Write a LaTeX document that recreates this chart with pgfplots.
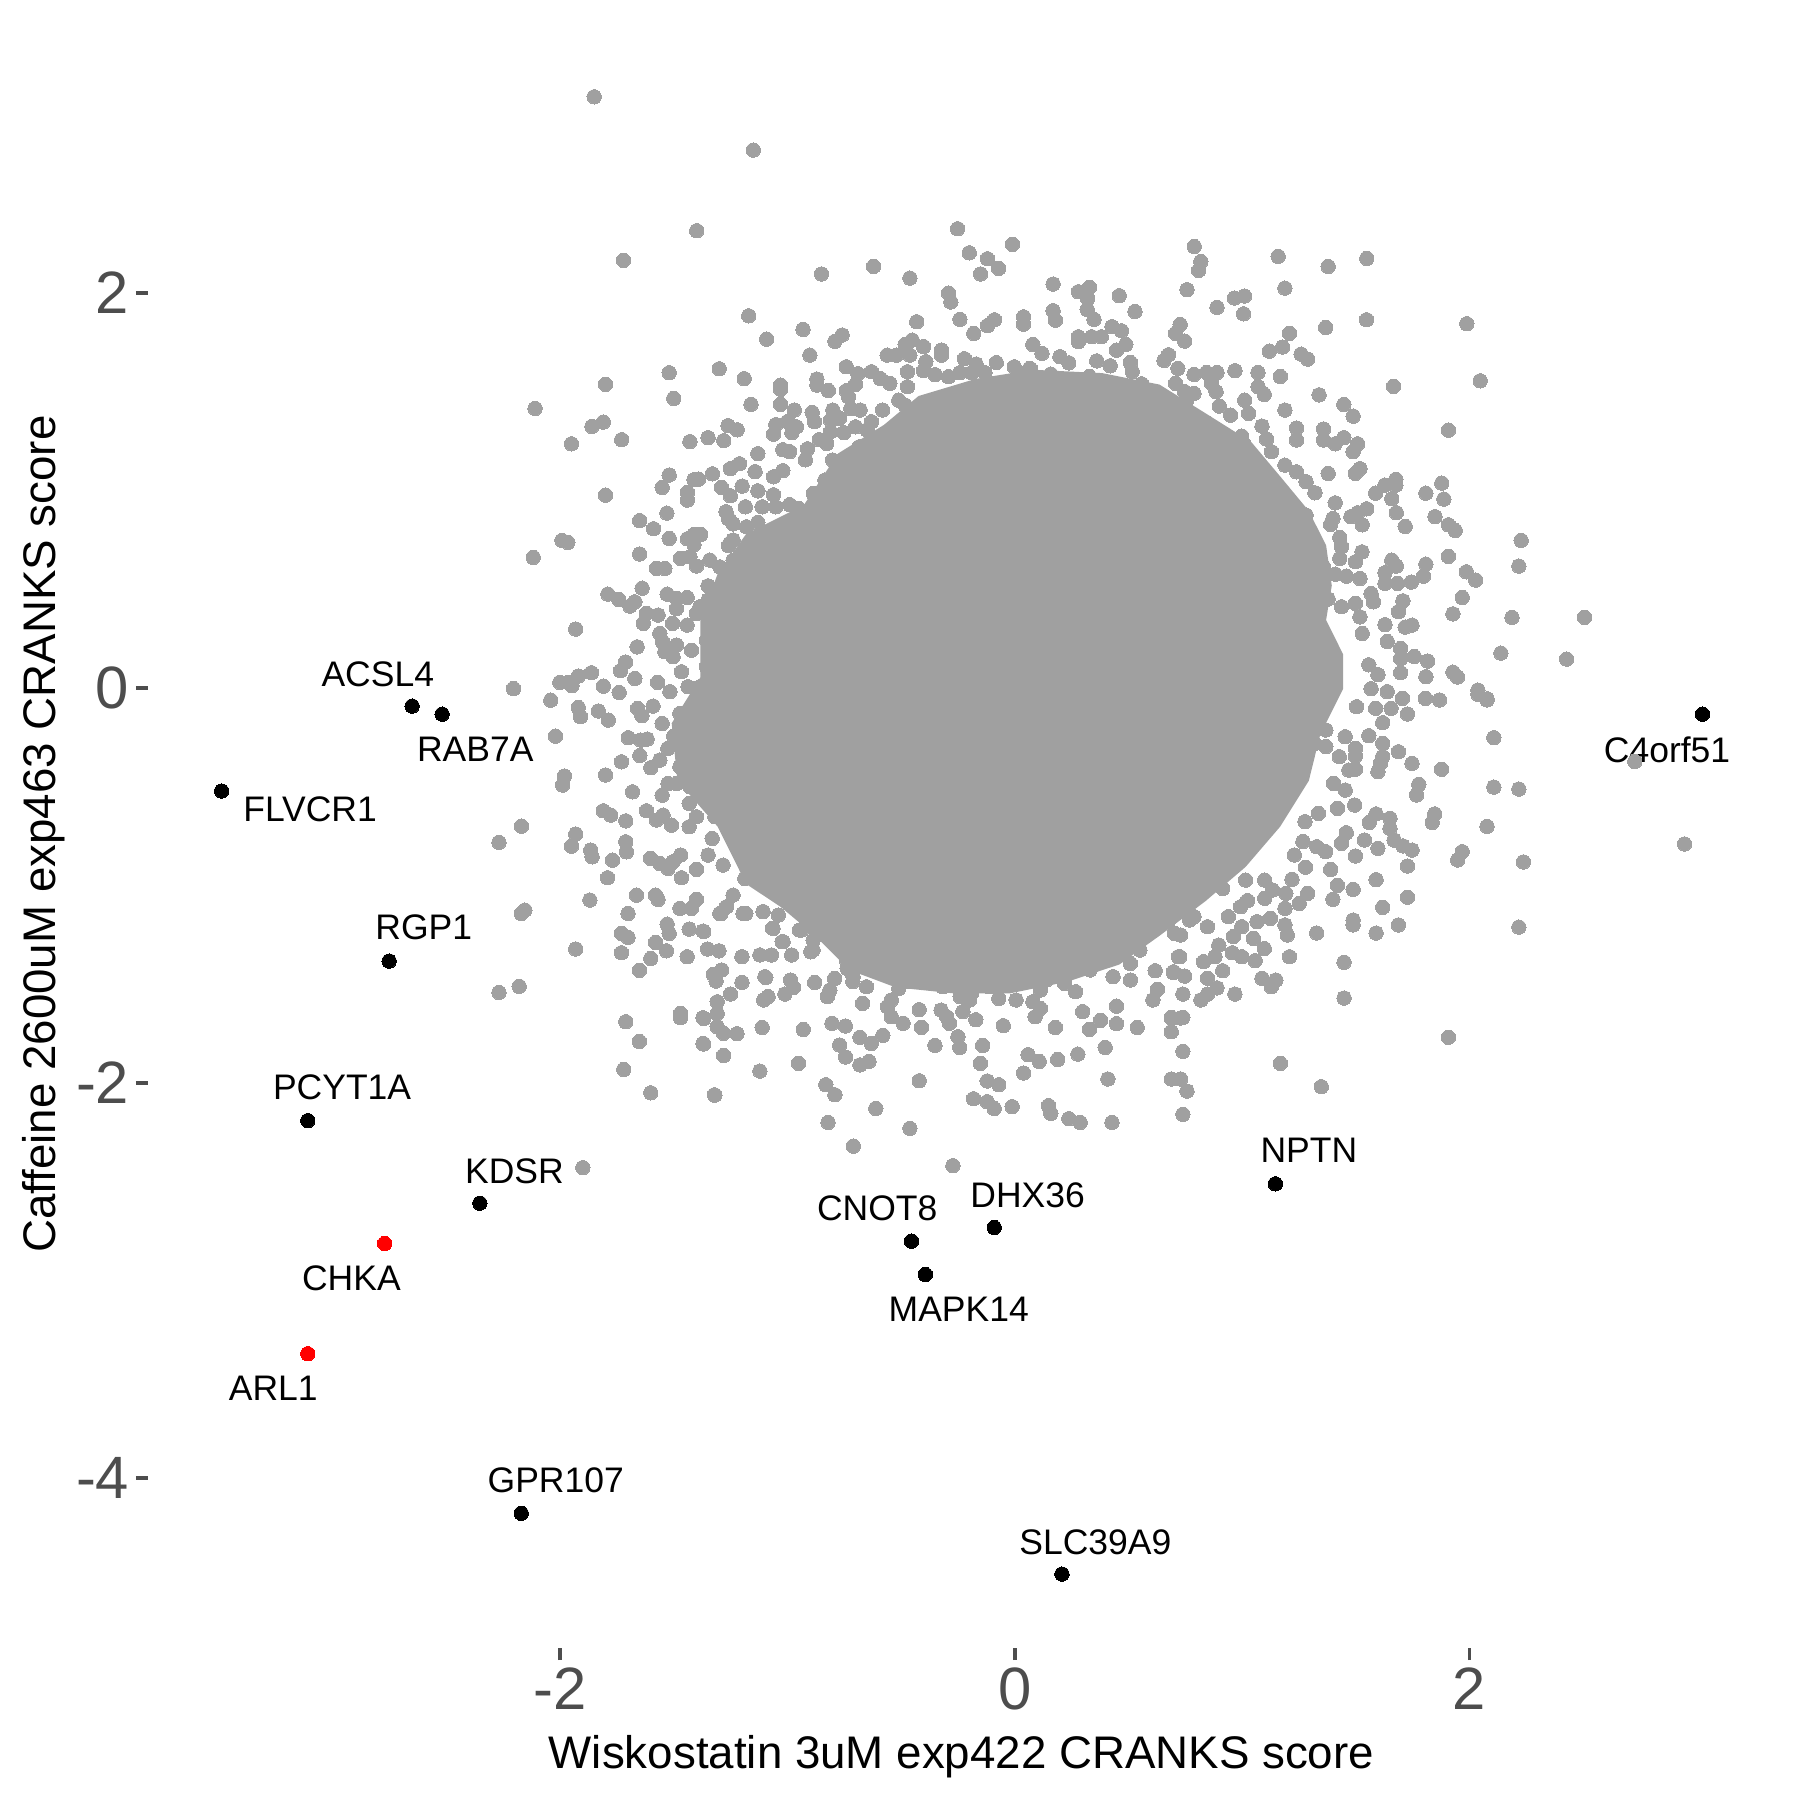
\documentclass[border=0pt]{standalone}
\usepackage{fontspec}
\setmainfont{Liberation Sans}
\usepackage{pgfplots}
\pgfplotsset{compat=1.18}
\definecolor{ptgray}{HTML}{A0A0A0}
\definecolor{tickgray}{HTML}{4D4D4D}
\newcommand{\lab}[3]{\node[anchor=center,inner sep=0pt,font=\fontsize{10.1}{12}\selectfont] at (axis cs:#1,#2) {#3};}
\begin{document}
\begin{tikzpicture}
\path[use as bounding box] (-14.8mm,-15.2mm) rectangle (165.2mm,164.8mm);
\begin{axis}[
  at={(0,0)},anchor=south west,
  scale only axis,width=162.7mm,height=162.8mm,
  xmin=-3.814,xmax=3.344,ymin=-4.862,ymax=3.381,
  axis line style={draw=none},
  clip=false,
  xtick={-2,0,2},xticklabels={-2,0,2},
  ytick={-4,-2,0,2},yticklabels={-4,-2,0,2},
  xtick pos=lower,ytick pos=left,
  tick align=outside,major tick length=1.2mm,
  tick style={color=tickgray,line width=1.05pt},
  ticklabel style={color=tickgray,font=\fontsize{17}{20}\selectfont},
  xticklabel style={yshift=1.2pt},
  yticklabel style={xshift=1.6pt},
  xlabel={Wiskostatin 3uM exp422 CRANKS score},
  ylabel={Caffeine 2600uM exp463 CRANKS score},
  xlabel style={at={(axis description cs:0.5,-0.067)},anchor=center,font=\fontsize{13}{15}\selectfont},
  ylabel style={at={(axis description cs:-0.0642,0.5)},anchor=center,rotate=0,font=\fontsize{13}{15}\selectfont},
]
% merged mass of the overlapping central points: its outline
\addplot[fill=ptgray,draw=none,forget plot] coordinates {
(-.929,.924)(-.778,1.186)(-.576,1.331)(-.424,1.477)(-.172,1.564)(.081,1.610)(.384,1.593)(.636,1.535)(.838,1.390)(1.040,1.244)(1.167,1.070)(1.293,.895)(1.369,.721)(1.394,.517)(1.369,.343)(1.444,.169)(1.444,-.006)(1.343,-.238)(1.293,-.471)(1.167,-.703)(1.015,-.907)(.838,-1.081)(.636,-1.256)(.460,-1.401)(.232,-1.488)(-.020,-1.547)(-.273,-1.547)(-.525,-1.517)(-.727,-1.430)(-.879,-1.256)(-1.030,-1.110)(-1.182,-.994)(-1.308,-.703)(-1.485,-.471)(-1.510,-.180)(-1.384,.052)(-1.384,.343)(-1.308,.576)(-1.182,.779)
} -- cycle;
% individually readable grey points
\addplot[only marks,color=ptgray,mark=*,mark size=2.05pt,mark options={draw=ptgray,fill=ptgray,line width=0pt},forget plot] coordinates {
(-1.851,2.992)(-1.151,2.722)(-1.400,2.314)(-1.722,2.164)(-.851,2.095)(-.622,2.133)(-.462,2.074)(-.252,2.324)(-.201,2.202)(-.121,2.172)(-.072,2.123)(-.151,2.095)(-.011,2.245)(-.292,1.998)(-.282,1.953)(-1.171,1.883)(-1.092,1.765)(-.932,1.814)(-.760,1.786)(-.792,1.754)(-.902,1.684)(-.432,1.853)(-.242,1.865)(-.181,1.794)(-.121,1.833)(-.090,1.863)(.038,1.878)(.038,1.841)(-1.521,1.595)(-1.301,1.615)(-1.191,1.565)(-1.801,1.536)(-1.501,1.465)(-2.111,1.414)(-1.811,1.345)(-1.861,1.323)(-1.951,1.235)(-1.730,1.256)(-1.430,1.246)(-1.350,1.266)(-1.281,1.251)(-1.262,1.327)(-1.222,1.306)(-1.161,1.435)(-1.031,1.532)(-1.031,1.511)(-1.031,1.435)(-.742,1.625)(-.871,1.563)(-.871,1.532)(-.821,1.505)(-.971,1.406)(-.892,1.394)(-.882,1.347)(-.801,1.406)(-1.052,1.332)(-1.062,1.284)(-1.001,1.347)(-.961,1.321)(-.981,1.291)(-1.131,1.185)(-1.021,1.205)(-.991,1.195)(-.912,1.210)(-.922,1.154)(-.861,1.256)(-1.212,1.134)(-1.252,1.109)(-1.331,1.083)(-1.521,1.077)(-1.552,1.014)(-1.412,1.053)(-1.392,1.056)(-1.441,.989)(-1.441,.950)(-1.291,1.014)(-1.252,.972)(-1.200,1.021)(-1.143,1.094)(-1.062,1.068)(-1.021,1.099)(-1.131,.997)(-1.062,.977)(-1.186,.916)(-1.112,.916)(-1.052,.916)(-.991,.927)(-.951,.908)(-1.801,.975)(-1.531,.884)(-1.651,.846)(-1.590,.805)(-1.521,.756)(-1.412,.776)(-1.382,.776)(-1.441,.754)(-1.412,.724)(-1.271,.891)(-1.260,.856)(-1.240,.830)(-1.181,.815)(-1.131,.837)(-1.240,.748)(-1.260,.719)(-1.993,.746)(-1.967,.736)(-2.119,.660)(-1.651,.677)
(-.562,1.684)(-.521,1.684)(-.462,1.684)(-.483,1.738)(-.452,1.760)(-.402,1.727)(-.323,1.710)(-.323,1.684)(-.222,1.666)(-.171,1.639)(-.082,1.646)(-.392,1.651)(-.402,1.605)(-.351,1.585)(-.292,1.575)(-.242,1.595)(-.191,1.595)(-.132,1.595)(-.003,1.625)(.068,1.615)(.027,1.585)(-.473,1.600)(-.473,1.524)(-.691,1.590)(-.631,1.600)(-.592,1.565)(-.550,1.541)(-.701,1.536)(-.742,1.504)(-.732,1.473)(-.722,1.414)(-.681,1.406)(-.582,1.406)(-.511,1.456)(-.483,1.431)(-.442,1.389)(-.331,1.451)(-.361,1.386)(-.262,1.473)(-.212,1.482)(-.153,1.490)(-.122,1.451)(-.122,1.375)(-.213,1.355)(-.062,1.416)(-.013,1.511)(.107,1.532)(-.772,1.364)(-.811,1.355)(-.752,1.291)(-.701,1.321)(-.631,1.347)(-.651,1.305)(-.811,1.296)(-.828,1.237)(-.685,1.220)(-.584,1.271)(-.483,1.330)(-.398,1.305)
(-.802,1.153)(-.735,1.102)(-.836,1.051)(-.887,.984)(-.802,.900)(-.718,.984)(-.887,.815)(-.971,.781)(-1.038,.748)(-1.139,.697)(-.634,1.153)(-.550,1.237)(-.668,1.018)(-.702,.900)(-.802,.765)(-.887,.697)
(.789,2.234)(.818,2.158)(.808,2.113)(1.158,2.184)(1.378,2.133)(1.548,2.174)(1.188,2.023)(.757,2.015)(1.010,1.983)(.966,1.973)(.889,1.926)(1.006,1.893)(.168,2.044)(.279,2.005)(.328,2.027)(.320,1.971)(.318,1.915)(.348,1.865)(.459,1.985)(.528,1.905)(.168,1.909)(.178,1.861)(1.367,1.824)(1.547,1.863)(1.988,1.843)(1.208,1.794)(1.178,1.725)(1.119,1.704)(1.259,1.689)(1.288,1.664)(2.047,1.554)(1.666,1.526)(1.338,1.483)(1.447,1.434)(1.488,1.375)(1.907,1.304)(1.188,1.406)(1.239,1.315)(1.239,1.254)(1.358,1.310)(1.358,1.254)(1.409,1.235)(1.447,1.266)(1.508,1.235)(1.488,1.195)(1.518,1.109)(1.498,1.085)(1.378,1.085)(1.676,1.055)(1.628,1.026)(1.676,1.026)(1.587,.985)(1.658,.957)(1.808,.985)(1.878,1.036)(1.887,.955)(1.848,.866)(1.907,.825)(1.937,.796)(1.678,.886)(1.717,.817)(1.548,.906)(1.508,.886)(1.478,.866)(1.528,.825)(1.409,.936)(1.399,.857)(1.389,.827)(2.227,.746)(2.217,.616)(1.907,.665)(1.808,.626)(1.658,.646)(1.678,.616)(1.628,.582)(1.798,.565)(1.744,.535)(1.683,.528)(1.628,.528)(1.986,.587)(2.027,.545)(1.968,.457)(1.927,.374)(2.187,.356)(2.506,.356)(2.138,.175)(2.427,.145)(1.707,.440)(1.687,.385)(1.628,.319)(1.747,.317)(1.717,.307)(1.638,.234)(1.697,.199)(1.697,.148)(1.757,.158)(1.816,.135)(1.697,.076)(1.808,.056)(1.927,.079)(1.947,.054)(2.037,-.012)(2.077,-.056)(1.567,-.005)(1.597,.066)(1.557,.116)(1.429,.761)(1.437,.714)(1.527,.688)(1.498,.638)(1.429,.655)(1.567,.477)(1.577,.435)(1.498,.427)(1.518,.359)(1.528,.275)(1.458,.565)(1.518,.553)(1.409,.575)(1.358,.612)(1.378,.449)(1.437,.410)(1.358,.528)(1.308,.537)(1.320,.987)(1.281,.874)(1.229,.916)(1.239,1.093)(1.188,1.127)(1.281,1.043)(1.112,.950)(1.161,.866)(1.079,.781)(1.011,1.456)(1.028,1.389)(1.087,1.325)(1.107,1.259)(1.129,1.195)(.998,1.274)(1.006,1.237)(1.028,1.161)(1.045,1.085)(.848,1.338)(.788,1.321)(.949,1.380)(.899,1.426)(1.097,1.485)(1.070,1.524)(.968,1.605)(1.069,1.596)(1.168,1.576)(.885,1.499)(.865,1.541)(.889,1.596)(.843,1.596)(.788,1.586)(.717,1.617)(.676,1.686)(.656,1.657)(.707,1.541)(.747,1.499)(.788,1.490)(.756,1.456)(.727,1.839)(.707,1.794)(.747,1.755)(.488,1.738)(.447,1.709)(.419,1.630)(.360,1.655)(.508,1.647)(.516,1.601)(.557,1.539)(.527,1.514)(.338,1.777)(.380,1.777)(.279,1.777)(.279,1.752)(.427,1.828)(.469,1.807)(.079,1.738)(.119,1.693)(.198,1.676)(.237,1.645)(.065,1.617)(.035,1.586)(.158,1.588)(.328,1.576)(.227,1.558)(.104,1.532)(-.010,1.507)(.616,1.440)(.658,1.414)(.557,1.456)(.439,1.456)(.355,1.473)(.271,1.456)(.187,1.440)(.102,1.473)(.035,1.456)(-.032,1.423)(.793,1.254)(.708,1.245)(.843,1.186)(.910,1.153)
(2.037,-.033)(2.077,-.062)(1.806,-.054)(1.868,-.062)(1.727,-.133)(2.107,-.253)(1.557,-.243)(1.618,-.177)(1.618,-.282)(1.687,-.324)(1.747,-.383)(1.877,-.413)(2.727,-.374)(2.107,-.503)(2.217,-.513)(1.777,-.489)(1.767,-.543)(1.618,-.349)(1.608,-.383)(1.597,-.425)(1.498,-.307)(1.498,-.346)(1.498,-.413)(1.847,-.639)(1.836,-.682)(2.077,-.702)(2.946,-.791)(1.589,-.639)(1.559,-.682)(1.650,-.661)(1.650,-.712)(1.668,-.771)(1.707,-.801)(1.747,-.822)(1.727,-.903)(1.968,-.830)(1.948,-.872)(2.237,-.882)(1.538,-.771)(1.597,-.813)(1.458,-.734)(1.437,-.788)(1.498,-.852)(1.389,-.920)(1.589,-.972)(1.419,-1.001)(1.488,-1.021)(1.399,-1.071)(1.727,-1.061)(1.618,-1.112)(1.687,-1.201)(1.488,-1.176)(1.488,-1.201)(1.589,-1.242)(2.217,-1.212)(1.328,-1.242)(1.448,-1.390)(1.448,-1.571)(1.208,-1.362)(1.907,-1.770)(1.168,-1.902)(1.348,-2.020)(1.097,-1.321)(1.198,-1.252)(1.188,-1.201)(1.288,-1.041)(1.219,-.970)(1.278,-.909)(1.229,-.847)(1.367,-.830)(1.328,-.805)(1.267,-.779)(1.057,-1.382)(.998,-1.362)(.956,-1.342)(.897,-1.303)(1.087,-1.471)(1.148,-1.480)(1.128,-1.514)(.968,-1.551)(.889,-1.520)(.848,-1.551)(.818,-1.581)(.739,-1.551)(.729,-1.672)(.688,-1.672)(.688,-1.742)(.739,-1.841)(.688,-1.981)(.729,-1.981)(.757,-2.042)(.739,-2.160)(.747,-1.460)(.698,-1.443)(.719,-1.362)(.830,-1.387)(.880,-1.362)(.914,-1.433)(.847,-1.471)(1.049,-1.269)(.998,-1.210)(.961,-1.260)(.939,-1.159)(1.065,-1.185)(1.124,-1.168)(1.188,-1.117)(1.251,-1.092)(1.023,-1.078)(.993,-1.109)(.914,-1.016)(.847,-1.210)(.788,-1.159)(.729,-1.252)(.678,-1.176)(1.099,-.974)(1.133,-1.024)(1.099,-1.066)(1.192,-1.041)(1.015,-.974)(1.276,-.678)(1.335,-.636)(1.419,-.611)(1.495,-.594)(1.453,-.518)(1.402,-.484)(1.469,-.417)(1.427,-.349)(1.368,-.298)(1.368,-.214)(1.453,-.248)(1.318,-.282)(1.503,-.096)(1.587,-.104)(1.655,-.104)(1.638,-.020)(1.705,-.054)
(-1.352,-1.323)(-1.302,-1.332)(-1.201,-1.362)(-1.122,-1.353)(-1.071,-1.353)(-.982,-1.353)(-1.327,-1.451)(-1.290,-1.429)(-1.315,-1.485)(-1.201,-1.492)(-1.096,-1.467)(-1.086,-1.564)(-1.105,-1.581)(-.987,-1.480)(-1.012,-1.551)(-.974,-1.517)(-.881,-1.492)(-.793,-1.472)(-.814,-1.531)(-.825,-1.564)(-1.251,-1.551)(-1.310,-1.590)(-1.310,-1.649)(-1.369,-1.674)(-1.310,-1.716)(-1.282,-1.750)(-1.223,-1.752)(-1.369,-1.804)(-1.282,-1.862)(-1.112,-1.720)(-.931,-1.730)(-.805,-1.699)(-.746,-1.713)(-.682,-1.770)(-.581,-1.760)(-.632,-1.801)(-.771,-1.809)(-.745,-1.870)(-.682,-1.910)(-.642,-1.892)(-1.122,-1.941)(-.952,-1.902)(-1.322,-2.061)(-.832,-2.010)(-.792,-2.061)(-.421,-1.990)(-.612,-2.130)(-.822,-2.201)(-.462,-2.231)(-.711,-2.321)(-.273,-2.420)(-.411,-1.720)(-.492,-1.699)(-.421,-1.630)(-.352,-1.811)(-.243,-1.821)(-.251,-1.767)(-.288,-1.699)(-.172,-1.681)(-.051,-1.711)(-.142,-1.811)(-.152,-1.902)(-.122,-1.991)(-.071,-2.010)(-.182,-2.081)(-.122,-2.096)(-.091,-2.131)(-.012,-2.121)(.148,-2.116)(.158,-2.155)(.237,-2.182)(.287,-2.201)(.427,-2.201)(.409,-1.981)(.038,-1.951)(.058,-1.858)(.107,-1.892)(.188,-1.882)(.277,-1.855)(.397,-1.821)(.178,-1.720)(.298,-1.640)(.447,-1.612)(.447,-1.701)(.377,-1.684)(.328,-1.730)(.538,-1.720)(.688,-1.669)(.739,-1.669)(.607,-1.581)(.627,-1.527)(.508,-1.480)(.698,-1.438)(.617,-1.433)(.725,-1.362)(.089,-1.666)(.112,-1.624)(.079,-1.590)(.138,-1.480)(.112,-1.531)(.267,-1.539)(.218,-1.497)(.005,-1.581)(-.039,-1.497)(-.071,-1.573)(-.115,-1.514)(-.229,-1.640)(-.199,-1.581)(-.325,-1.632)(-.300,-1.666)(-.317,-1.514)(-.359,-1.488)(-.241,-1.564)(-.191,-1.548)(-.544,-1.581)(-.561,-1.615)(-.544,-1.666)(-.511,-1.522)(-.477,-1.488)(-.670,-1.598)(-.713,-1.488)(-.738,-1.421)(-.898,-1.337)(-1.024,-1.286)(-1.066,-1.218)(-1.369,-1.235)(-1.293,-1.143)(-1.184,-1.143)(-1.108,-1.134)(-1.041,-1.151)(-.948,-1.227)(-.898,-1.193)(-.847,-1.244)(-.595,-1.362)(-.393,-1.429)(.432,-1.463)(.331,-1.429)(.508,-1.396)(.550,-1.328)(.702,-1.244)(.769,-1.176)
(-1.577,.604)(-1.540,.604)(-1.471,.655)(-1.430,.663)(-1.401,.616)(-1.342,.646)(-1.640,.504)(-1.791,.474)(-1.743,.447)(-1.694,.413)(-1.672,.435)(-1.530,.474)(-1.489,.452)(-1.442,.457)(-1.489,.401)(-1.621,.376)(-1.570,.368)(-1.635,.326)(-1.506,.326)(-1.442,.317)(-1.932,.297)(-1.662,.207)(-1.562,.275)(-1.550,.233)(-1.540,.182)(-1.504,.157)(-1.489,.216)(-1.423,.190)(-1.713,.130)(-1.735,.086)(-1.863,.076)(-1.921,.059)(-2.002,.027)(-1.965,.027)(-1.949,.010)(-1.672,.047)(-1.811,.008)(-1.741,-.024)(-1.572,.027)(-1.518,-.020)(-1.467,.081)(-1.438,.005)(-2.206,-.004)(-2.042,-.063)(-1.921,-.100)(-1.911,-.147)(-1.833,-.118)(-1.789,-.164)(-1.660,-.105)(-1.641,-.142)(-1.592,-.093)(-1.552,-.181)(-2.021,-.245)(-1.701,-.253)(-1.646,-.265)(-1.618,-.260)(-1.501,-.245)(-1.527,-.307)(-1.650,-.343)(-1.731,-.375)(-1.602,-.405)(-1.562,-.366)(-1.801,-.442)(-1.982,-.447)(-1.990,-.493)(-1.526,-.485)(-1.682,-.527)(-1.552,-.544)(-1.621,-.623)(-1.811,-.623)(-1.778,-.645)(-1.712,-.674)(-1.433,-.586)(-1.548,-.645)(-1.577,-.670)(-1.511,-.696)(-1.433,-.704)(-2.171,-.701)(-1.932,-.741)(-2.270,-.783)(-1.712,-.780)(-1.709,-.831)(-1.951,-.802)(-1.866,-.822)(-1.860,-.856)(-1.770,-.873)(-1.603,-.864)(-1.562,-.890)(-1.526,-.915)(-1.470,-.847)(-1.504,-.881)(-1.401,-.920)(-1.792,-.962)(-1.467,-.962)(-1.350,-.847)(-1.332,-.763)(-1.284,-.898)(-1.181,-.881)(-1.108,-.873)(-1.188,-.966)(-1.115,-.966)(-1.665,-1.050)(-1.581,-1.050)(-1.870,-1.075)(-1.401,-.653)(-1.320,-.653)(-1.262,-.662)(-1.386,.410)(-1.350,.444)(-1.401,.376)(-1.350,.516)(-1.328,.309)(-1.262,.444)
(-1.474,-.130)(-1.416,-.164)(-1.460,-.231)(-1.401,-.265)(-1.460,-.333)(-1.401,-.366)(-1.474,-.400)(-1.416,-.451)(-1.489,-.485)(-1.430,-.501)(-1.357,-.518)(-1.298,-.569)(-1.342,-.096)(-1.284,-.164)(-1.386,.005)(-1.328,-.046)(-1.357,.106)(-1.298,.174)(-1.357,.241)(-1.284,.275)(-1.240,.309)(-1.269,.545)(-1.298,.612)(-1.240,.646)(-1.254,.731)(-1.108,.781)(-1.137,.663)(-1.181,.579)(-1.196,.477)(-1.210,.376)(-1.181,.241)(-1.196,.140)(-1.225,.005)(-1.210,-.130)(-1.225,-.231)(-1.284,-.333)(-1.328,-.400)(-1.240,-.451)(-1.269,-.535)(-1.181,-.603)
(-2.171,-1.143)(-2.156,-1.126)(-1.932,-1.323)(-2.270,-1.543)(-2.181,-1.512)(-1.901,-2.430)(-1.702,-1.143)(-1.570,-1.072)(-1.474,-1.117)(-1.423,-1.117)(-1.401,-1.072)(-1.731,-1.244)(-1.702,-1.264)(-1.530,-1.197)(-1.521,-1.244)(-1.433,-1.222)(-1.372,-1.232)(-1.731,-1.342)(-1.581,-1.290)(-1.533,-1.332)(-1.602,-1.371)(-1.652,-1.431)(-1.442,-1.362)(-1.471,-1.649)(-1.471,-1.671)(-1.372,-1.671)(-1.372,-1.801)(-1.712,-1.691)(-1.652,-1.791)(-1.721,-1.933)(-1.602,-2.051)(-1.320,-2.063)(-1.298,-1.143)(-1.240,-1.050)(-1.269,-1.109)(-1.196,-1.143)(-1.108,-1.134)(-1.064,-1.219)(-1.020,-1.286)(-.939,-1.227)(-.902,-1.202)(-.888,-1.328)(-1.100,-1.463)(-.946,-1.075)(-.829,-1.109)(-.741,-1.210)(-.653,-1.514)(-.712,-1.463)(-.741,-1.379)(-.638,-1.396)(-.668,-1.278)(-.888,-1.210)(-.888,-1.278)
};
% labelled genes
\addplot[only marks,color=black,mark=*,mark size=2.05pt,mark options={draw=black,fill=black,line width=0pt},forget plot] coordinates {
(-2.652,-.093)(-2.520,-.134)(-3.490,-.523)(3.025,-.134)(-2.753,-1.384)(-3.111,-2.192)(-2.354,-2.610)(-2.172,-4.180)(.207,-4.488)(-.455,-2.802)(-.091,-2.733)(-.394,-2.971)(1.146,-2.512)
};
\addplot[only marks,color=red,mark=*,mark size=2.05pt,mark options={draw=red,fill=red,line width=0pt},forget plot] coordinates {
(-2.773,-2.814)(-3.111,-3.372)
};
\lab{-2.803}{.070}{ACSL4}
\lab{-2.374}{-.314}{RAB7A}
\lab{-3.101}{-.616}{FLVCR1}
\lab{2.869}{-.314}{C4orf51}
\lab{-2.601}{-1.215}{RGP1}
\lab{-2.960}{-2.023}{PCYT1A}
\lab{-2.202}{-2.448}{KDSR}
\lab{-2.919}{-2.988}{CHKA}
\lab{-3.263}{-3.547}{ARL1}
\lab{-2.020}{-4.012}{GPR107}
\lab{.354}{-4.326}{SLC39A9}
\lab{-.606}{-2.634}{CNOT8}
\lab{.056}{-2.570}{DHX36}
\lab{-.247}{-3.145}{MAPK14}
\lab{1.293}{-2.343}{NPTN}
\end{axis}
\end{tikzpicture}
\end{document}
